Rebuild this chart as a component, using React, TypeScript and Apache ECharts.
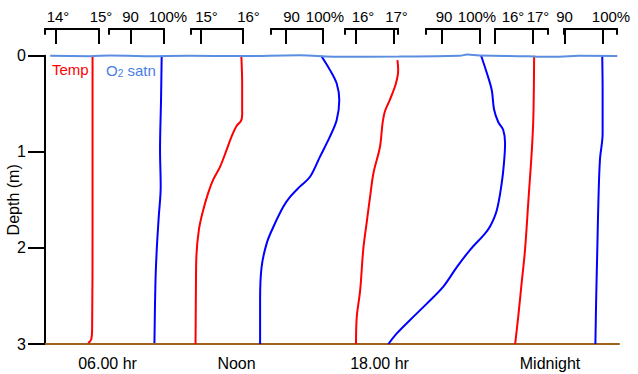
import React, { useEffect, useRef } from 'react';
import * as echarts from 'echarts';

// ---------- data ----------
const depthTicks = [0, 1, 2, 3];
const timeLabels = ['06.00 hr', 'Noon', '18.00 hr', 'Midnight'];
const profileNames = ['Temp', 'O2 satn'];

// scale ticks of each little bracket (temperature °C or O2 saturation %)
const bracketValues = [[14, 15], [90, 100], [15, 16], [90, 100], [16, 17], [90, 100], [16, 17], [90, 100]];
const bracketLabels = [
  ['14°', '15°'], ['90', '100%'], ['15°', '16°'], ['90', '100%'],
  ['16°', '17°'], ['90', '100%'], ['16°', '17°'], ['90', '100%'],
];

// [value, depth (m)]
const temp0600 = [[14.85, 0.0], [14.85, 1.0], [14.85, 1.7], [14.84, 2.85], [14.82, 2.95], [14.75, 2.99]];
const o2_0600 = [[99.3, 0.0], [99.1, 0.46], [98.8, 0.98], [99.0, 1.36], [98.4, 1.68], [97.8, 2.02], [97.4, 2.37], [97.1, 2.99]];
const tempNoon = [
  [15.96, 0.0], [15.98, 0.29], [15.98, 0.62], [15.95, 0.68], [15.85, 0.73], [15.73, 0.84], [15.61, 0.98],
  [15.45, 1.16], [15.29, 1.29], [15.17, 1.43], [15.05, 1.61], [14.95, 1.81], [14.89, 2.09], [14.88, 2.37], [14.87, 3.0],
];
const o2Noon = [
  [99.5, 0.0], [101.9, 0.15], [103.7, 0.29], [104.4, 0.46], [103.7, 0.67], [101.9, 0.84], [99.2, 1.05],
  [96.5, 1.26], [93.8, 1.36], [91.1, 1.47], [89.3, 1.57], [86.6, 1.78], [84.8, 1.95], [83.4, 2.2], [83.0, 2.54], [83.0, 3.0],
];
const temp1800 = [
  [17.09, 0.045], [17.11, 0.15], [17.05, 0.29], [16.89, 0.46], [16.76, 0.58], [16.7, 0.7], [16.63, 0.95],
  [16.46, 1.22], [16.37, 1.47], [16.28, 1.74], [16.19, 2.02], [16.11, 2.44], [16.02, 2.72], [16.0, 3.0],
];
const o2_1800 = [
  [100.3, 0.0], [101.8, 0.18], [103.1, 0.36], [103.7, 0.56], [104.8, 0.69], [106.1, 0.77], [106.6, 0.91],
  [106.3, 1.12], [105.7, 1.33], [104.4, 1.61], [102.6, 1.78], [100.9, 1.87], [97.4, 2.02], [93.9, 2.2],
  [90.4, 2.4], [86.0, 2.58], [81.6, 2.75], [78.1, 2.89], [75.9, 3.0],
];
const tempMidnight = [[17.03, 0.0], [17.01, 0.63], [16.97, 0.98], [16.88, 1.5], [16.79, 2.02], [16.7, 2.37], [16.61, 2.72], [16.53, 3.0]];
const o2Midnight = [[99.8, 0.0], [99.9, 0.36], [99.9, 0.81], [99.2, 1.08], [98.8, 1.5], [98.5, 2.02], [98.2, 2.54], [98.0, 3.0]];

const profiles = [temp0600, o2_0600, tempNoon, o2Noon, temp1800, o2_1800, tempMidnight, o2Midnight];

// water surface: [% across the plot, depth]
const surfaceLine = [
  [0.9, 0.0], [7.8, 0.005], [11.3, -0.003], [17.4, 0.006], [25.2, 0.0], [33.9, 0.004], [44.3, -0.004],
  [50.4, 0.01], [61.7, 0.008], [72.2, 0.0], [73.6, -0.012], [75.7, -0.003], [84.3, 0.006], [86.1, 0.012],
  [89.6, 0.01], [93.0, 0.0], [99.7, 0.003],
];

// ---------- layout / style ----------
const FONT = '"Liberation Sans", Arial, sans-serif';
const PLOT_L = 45;
const PLOT_R = 619;
const PLOT_T = 55.7;
const PLOT_B = 344;
const W = 638;
const H = 374;
const bracketTickPx = [[56, 99], [131, 164], [201, 243], [286, 323], [356, 394], [442, 480], [495, 533], [565, 603]];
const bracketLabelPx = [[58, 101], [130.5, 168], [206.5, 248.5], [291.5, 325], [363, 396.5], [444, 477], [513, 538], [564.5, 611]];
const bracketEdgePx = [[45, 99], [109, 164], [191, 243], [271, 323], [345, 398], [426, 480], [495, 548], [564, 617]];
const BRACKET_TOP = 29;
const LABEL_MARGIN = 32; // from plot top to bottom of the bracket labels
const timeLabelX = [107.5, 236.5, 379.5, 550];
const TEMP_COLOR = '#ff0000';
const O2_COLOR = '#0000ff';
const O2_TEXT_COLOR = '#4a7ee6';
const SURFACE_COLOR = '#5b8ee0';
const BOTTOM_COLOR = '#a0601e';

function pxToVal(i: number, px: number) {
  const [v1, v2] = bracketValues[i];
  const [p1, p2] = bracketTickPx[i];
  return v1 + ((px - p1) * (v2 - v1)) / (p2 - p1);
}

function buildOption() {
  const grid: any[] = [];
  const xAxis: any[] = [];
  const yAxis: any[] = [];
  const series: any[] = [];
  const plotGrid = {
    left: PLOT_L,
    top: PLOT_T,
    width: PLOT_R - PLOT_L,
    height: PLOT_B - PLOT_T,
    containLabel: false,
    outerBoundsMode: 'none',
  };

  // frame grid 0
  grid.push({ ...plotGrid });
  xAxis.push({
    gridIndex: 0, type: 'value', position: 'bottom', min: 0, max: 100,
    axisLine: { show: true, onZero: false, lineStyle: { color: BOTTOM_COLOR, width: 2 } },
    axisTick: { show: false }, axisLabel: { show: false }, splitLine: { show: false },
  });
  yAxis.push({
    gridIndex: 0, type: 'value', inverse: true, min: depthTicks[0], max: depthTicks[depthTicks.length - 1], interval: 1,
    axisLine: { show: true, onZero: false, lineStyle: { color: '#000', width: 2 } },
    axisTick: { show: true, length: 17, lineStyle: { color: '#000', width: 2 } },
    axisLabel: { show: true, fontSize: 16, color: '#000', fontFamily: FONT, margin: 19 },
    splitLine: { show: false },
    name: 'Depth (m)', nameLocation: 'middle', nameRotate: 90, nameGap: 24, nameMoveOverlap: false,
    nameTextStyle: { fontSize: 16, color: '#000', fontFamily: FONT },
  });
  series.push({
    name: 'surface', type: 'line', xAxisIndex: 0, yAxisIndex: 0, data: surfaceLine,
    smooth: true, showSymbol: false, clip: false, silent: true, z: 5,
    lineStyle: { color: SURFACE_COLOR, width: 2 },
  });

  // data grids 1..8 (their top axes carry the bracket labels)
  profiles.forEach((data, i) => {
    const g = grid.length;
    grid.push({ ...plotGrid });
    const labels = bracketLabels[i];
    const labelVals = bracketLabelPx[i].map((p) => pxToVal(i, p));
    xAxis.push({
      gridIndex: g, type: 'value', position: 'top',
      min: pxToVal(i, PLOT_L), max: pxToVal(i, PLOT_R),
      axisLine: { show: false, onZero: false },
      axisTick: { show: false },
      axisLabel: {
        show: true, customValues: labelVals, margin: LABEL_MARGIN, fontSize: 15, color: '#000', fontFamily: FONT,
        showMinLabel: true, showMaxLabel: true, hideOverlap: false,
        formatter: (v: number) => {
          const k = labelVals.findIndex((t) => Math.abs(t - v) < 1e-6);
          return k >= 0 ? labels[k] : '';
        },
      },
      splitLine: { show: false },
    });
    yAxis.push({
      gridIndex: g, type: 'value', show: false, inverse: true, min: 0, max: 3,
      axisLine: { onZero: false }, splitLine: { show: false },
    });
    const isTemp = i % 2 === 0;
    series.push({
      name: `${profileNames[i % 2]} ${timeLabels[Math.floor(i / 2)]}`,
      type: 'line', xAxisIndex: g, yAxisIndex: g, data,
      smooth: 0.35, showSymbol: false, clip: false, z: 3,
      lineStyle: { color: isTemp ? TEMP_COLOR : O2_COLOR, width: 2 },
    });
  });

  // bracket grids: top line with long ticks, short stubs at both ends (left/right y axes)
  bracketValues.forEach((vals, i) => {
    const g = grid.length;
    const [l, r] = bracketEdgePx[i];
    grid.push({ left: l, width: r - l, top: BRACKET_TOP, height: 5, containLabel: false, outerBoundsMode: 'none' });
    xAxis.push({
      gridIndex: g, type: 'value', position: 'top', min: pxToVal(i, l), max: pxToVal(i, r),
      axisLine: { show: true, onZero: false, lineStyle: { color: '#000', width: 2 } },
      axisTick: { show: true, inside: true, length: 15, customValues: vals, lineStyle: { color: '#000', width: 2 } },
      axisLabel: { show: false },
      splitLine: { show: false },
    });
    ['left', 'right'].forEach((pos) => {
      yAxis.push({
        gridIndex: g, type: 'value', position: pos, min: 0, max: 1,
        axisLine: { show: true, onZero: false, lineStyle: { color: '#000', width: 2 } },
        axisTick: { show: false }, axisLabel: { show: false }, splitLine: { show: false },
      });
    });
  });

  const graphic: any[] = [
    {
      type: 'text', x: 52, y: 69,
      style: { text: profileNames[0], fill: TEMP_COLOR, fontSize: 15, fontFamily: FONT, verticalAlign: 'middle' },
    },
    {
      type: 'text', x: 106, y: 69,
      style: {
        text: '{a|O}{b|2}{a| satn}', verticalAlign: 'middle', fill: O2_TEXT_COLOR, fontFamily: FONT,
        rich: {
          a: { fontSize: 15, fontFamily: FONT, fill: O2_TEXT_COLOR, lineHeight: 18, verticalAlign: 'bottom' },
          b: { fontSize: 10, fontFamily: FONT, fill: O2_TEXT_COLOR, lineHeight: 10, verticalAlign: 'bottom' },
        },
      },
    },
    ...timeLabels.map((t, i) => ({
      type: 'text', x: timeLabelX[i], y: 363.5,
      style: { text: t, fill: '#000', fontSize: 16, fontFamily: FONT, align: 'center', verticalAlign: 'middle' },
    })),
  ];

  return {
    animation: false,
    backgroundColor: '#ffffff',
    textStyle: { fontFamily: FONT },
    grid, xAxis, yAxis, series, graphic,
  };
}

export default function App() {
  const ref = useRef<HTMLDivElement>(null);
  useEffect(() => {
    if (!ref.current) return;
    const chart = echarts.init(ref.current, undefined, { renderer: 'svg' });
    chart.setOption(buildOption() as any);
    return () => chart.dispose();
  }, []);
  return (
    <div
      ref={ref}
      style={{ position: 'absolute', left: 0, top: 0, width: W, height: H, background: '#fff' }}
    />
  );
}
